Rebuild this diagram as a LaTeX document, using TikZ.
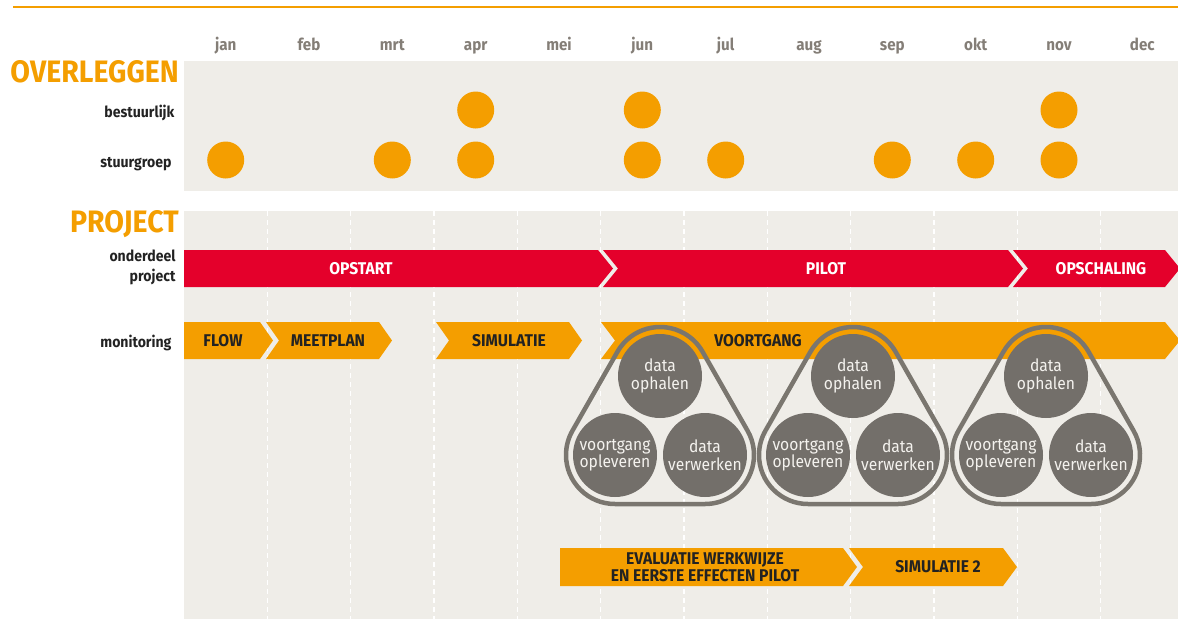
\documentclass[tikz,border=0pt]{standalone}
\usepackage{fontspec}
\setmainfont{Fira Sans}[FakeStretch=0.92]
\usetikzlibrary{calc}

\definecolor{oranje}{HTML}{F49E00}
\definecolor{rood}{HTML}{E4002B}
\definecolor{paneel}{HTML}{EFEDE8}
\definecolor{grijs}{HTML}{736F6A}
\definecolor{lijn}{HTML}{7A766F}
\definecolor{donker}{HTML}{222222}
\definecolor{maandgrijs}{HTML}{847E77}
\definecolor{licht}{HTML}{F4F2EE}

% chevron bar: colour, x left, x right, y top, y bottom, notch left, tip right
\newcommand{\chevbar}[7]{%
  \fill[#1] (#2,-#4) -- (#3,-#4) -- ({#3+#7},{-(#4+#5)/2}) -- (#3,-#5)
    -- (#2,-#5) -- ({#2+#6},{-(#4+#5)/2}) -- cycle;}

% rounded triangle round three circles: top, left, right
\newcommand{\cyclehull}[3]{%
  \draw[hull] ($(#1)+(150:49pt)$) arc[start angle=150,end angle=30,radius=49pt]
    -- ($(#3)+(30:49pt)$) arc[start angle=30,end angle=-90,radius=49pt]
    -- ($(#2)+(-90:49pt)$) arc[start angle=270,end angle=150,radius=49pt] -- cycle;}

\begin{document}
\begin{tikzpicture} [
    x=1pt, y=1pt,
    maand/.style  = { anchor=base, text=maandgrijs,
                      font=\fontsize{16.5}{18}\selectfont\bfseries },
    rij/.style    = { anchor=base east, align=right, text=donker,
                      font=\fontsize{15.3}{19.5}\selectfont\bfseries },
    kop/.style    = { anchor=base east, text=oranje, inner sep=0pt,
                      font=\fontsize{31}{33}\selectfont\bfseries },
    stip/.style   = { circle, fill=oranje, minimum size=37pt, inner sep=0pt },
    balk/.style   = { text=donker, align=center,
                      font=\fontsize{17}{17}\selectfont\bfseries },
    balkwit/.style= { balk, text=white },
    cyc/.style    = { circle, fill=grijs, minimum size=84pt, inner sep=0pt,
                      text=licht, align=center,
                      font=\fontsize{17}{17.5}\selectfont },
    hull/.style   = { draw=lijn, line width=4.5pt },
    raster/.style = { draw=white, line width=1.5pt, dash pattern=on 5pt off 4pt },
    node distance=79pt,
  ]
\useasboundingbox (0,0) rectangle (1178,-619);

% header line and panels
\draw[oranje, line width=2pt] (13,-7) -- (1178,-7);
\fill[paneel] (184,-61) rectangle (1178,-191);
\fill[paneel] (184,-211) rectangle (1178,-619);

% month grid
\path[raster] (267.3,-211) -- (267.3,-619)  (350.7,-211) -- (350.7,-619)
  (434,-211) -- (434,-619)  (517.3,-211) -- (517.3,-619)
  (600.7,-211) -- (600.7,-619)  (684,-211) -- (684,-619)
  (767.3,-211) -- (767.3,-619)  (850.7,-211) -- (850.7,-619)
  (934,-211) -- (934,-619)  (1017.3,-211) -- (1017.3,-619)
  (1100.7,-211) -- (1100.7,-619);

\node (jan) [maand] at (225.7,-50) {jan};
\node (feb) [maand] at (309,-50) {feb};
\node (mrt) [maand] at (392.3,-50) {mrt};
\node (apr) [maand] at (475.7,-50) {apr};
\node (mei) [maand] at (559,-50) {mei};
\node (jun) [maand] at (642.3,-50) {jun};
\node (jul) [maand] at (725.7,-50) {jul};
\node (aug) [maand] at (809,-50) {aug};
\node (sep) [maand] at (892.3,-50) {sep};
\node (okt) [maand] at (975.7,-50) {okt};
\node (nov) [maand] at (1059,-50) {nov};
\node (dec) [maand] at (1142.3,-50) {dec};

% overleggen
\node (overleggen) [kop] at (179,-82) {OVERLEGGEN};
\node (bestuurlijk) [rij] at (178,-117) {bestuurlijk};
\node (stuurgroep) [rij] at (175,-167) {stuurgroep};

\node (b-apr) [stip] at (475.7,-110) {};
\node (b-jun) [stip] at (642.3,-110) {};
\node (b-nov) [stip] at (1059,-110) {};
\node (s-jan) [stip] at (225.7,-160) {};
\node (s-mrt) [stip] at (392.3,-160) {};
\node (s-apr) [stip] at (475.7,-160) {};
\node (s-jun) [stip] at (642.3,-160) {};
\node (s-jul) [stip] at (725.7,-160) {};
\node (s-sep) [stip] at (892.3,-160) {};
\node (s-okt) [stip] at (975.7,-160) {};
\node (s-nov) [stip] at (1059,-160) {};

% project
\node (project) [kop] at (179,-232) {PROJECT};
\node (onderdeel) [rij] at (179,-281) {onderdeel\\project};
\node (monitoring) [rij] at (175,-347) {monitoring};

\chevbar{rood}{184}{598}{250}{287}{0}{15}
\chevbar{rood}{603}{1008}{250}{287}{15}{15}
\chevbar{rood}{1013}{1165}{250}{287}{15}{15}
\node (opstart) [balkwit] at (361,-268.5) {OPSTART};
\node (pilot) [balkwit] at (826,-268.5) {PILOT};
\node (opschaling) [balkwit] at (1101,-268.5) {OPSCHALING};

\chevbar{oranje}{184}{260}{322}{359}{0}{13}
\chevbar{oranje}{266}{379}{322}{359}{13}{13}
\chevbar{oranje}{436}{569}{322}{359}{13}{13}
\chevbar{oranje}{601}{1165}{322}{359}{14}{15}
\node (flow) [balk] at (223,-340.5) {FLOW};
\node (meetplan) [balk] at (328,-340.5) {MEETPLAN};
\node (simulatie) [balk] at (509,-340.5) {SIMULATIE};
\node (voortgang) [balk] at (758,-340.5) {VOORTGANG};

\chevbar{oranje}{560}{843}{548}{586}{0}{14}
\chevbar{oranje}{849}{1003}{548}{586}{14}{14}
\node (evaluatie) [balk] at (705,-567) {EVALUATIE WERKWIJZE\\EN EERSTE EFFECTEN PILOT};
\node (simulatie2) [balk] at (938,-567) {SIMULATIE 2};

% voortgang cycles
\node (oph1) [cyc] at (660,-376) {data\\ophalen};
\node (vw1) [cyc, below of=oph1, xshift=45pt] {data\\verwerken};
\node (opl1) [cyc, below of=oph1, xshift=-45pt] {voortgang\\opleveren};
\cyclehull{oph1}{opl1}{vw1}

\node (oph2) [cyc] at (853,-376) {data\\ophalen};
\node (vw2) [cyc, below of=oph2, xshift=45pt] {data\\verwerken};
\node (opl2) [cyc, below of=oph2, xshift=-45pt] {voortgang\\opleveren};
\cyclehull{oph2}{opl2}{vw2}

\node (oph3) [cyc] at (1046,-376) {data\\ophalen};
\node (vw3) [cyc, below of=oph3, xshift=45pt] {data\\verwerken};
\node (opl3) [cyc, below of=oph3, xshift=-45pt] {voortgang\\opleveren};
\cyclehull{oph3}{opl3}{vw3}

\end{tikzpicture}
\end{document}
